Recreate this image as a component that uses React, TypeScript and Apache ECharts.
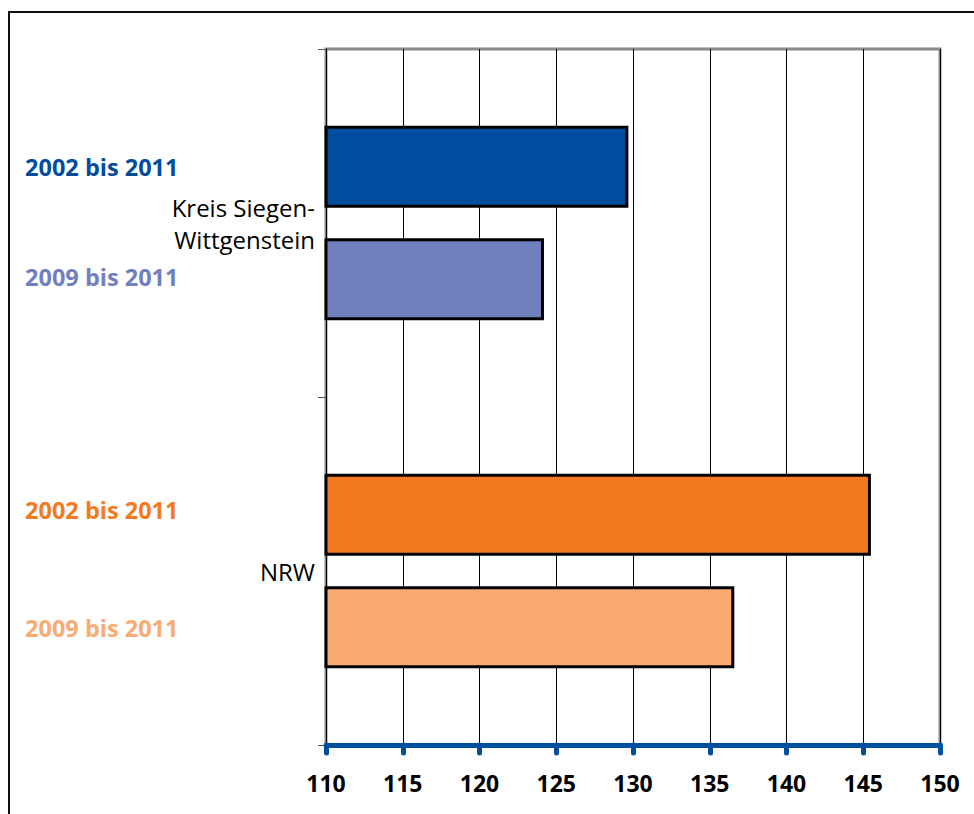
import React, { useEffect, useRef } from "react";
import * as echarts from "echarts";

const categories = ["Kreis Siegen-\nWittgenstein", "NRW"];
const seriesNames = ["2002 bis 2011", "2009 bis 2011"];
const values2002 = [129.7, 145.5];
const values2009 = [124.2, 136.6];
const colors2002 = ["#004C9F", "#F47A22"];
const colors2009 = ["#7080BF", "#F9AB73"];
const xTicks = { min: 110, max: 150, interval: 5 };

export default function App() {
  const ref = useRef<HTMLDivElement>(null);
  useEffect(() => {
    if (!ref.current) return;
    const chart = echarts.init(ref.current, null, { renderer: "svg" });
    const font = "'Open Sans', 'Noto Sans', sans-serif";
    const mk = (name: string, vals: number[], cols: string[], dy: number[]) => ({
      type: "bar",
      name,
      barWidth: 82,
      barGap: "37%",
      data: vals.map((v, i) => ({
        value: v,
        itemStyle: { color: cols[i] },
        label: { color: cols[i], offset: [0, dy[i]] },
      })),
      itemStyle: { borderColor: "#000", borderWidth: 3 },
      label: {
        show: true,
        position: "left",
        distance: 146,
        formatter: name,
        fontFamily: font,
        fontWeight: "bold",
        fontSize: 23.5,
      },
    });
    chart.setOption({
      animation: false,
      backgroundColor: "#fff",
      graphic: [
        {
          type: "rect",
          shape: { x: 9, y: 12, width: 1100, height: 1000 },
          style: { fill: "none", stroke: "#111", lineWidth: 2 },
          silent: true,
          z: -1,
        },
      ],
      grid: {
        left: 326,
        top: 49,
        right: 34,
        bottom: 69,
        show: true,
        borderColor: "#8a8a8a",
        borderWidth: 3,
        backgroundColor: "transparent",
      },
      xAxis: {
        type: "value",
        min: xTicks.min,
        max: xTicks.max,
        interval: xTicks.interval,
        axisLine: { show: true, lineStyle: { color: "#0050A0", width: 5 } },
        axisTick: {
          show: true,
          length: 8,
          lineStyle: { color: "#0050A0", width: 5, cap: "round" },
        },
        splitLine: { show: true, lineStyle: { color: "#000", width: 1 } },
        axisLabel: {
          color: "#000",
          fontFamily: font,
          fontWeight: "bold",
          fontSize: 23,
          margin: 26,
        },
      },
      yAxis: {
        type: "category",
        inverse: true,
        data: categories,
        axisLine: { show: true, lineStyle: { color: "#000", width: 1 } },
        axisTick: { show: true, length: 8, lineStyle: { color: "#555", width: 1 } },
        axisLabel: {
          color: "#000",
          fontFamily: font,
          fontSize: 24,
          lineHeight: 32,
          margin: 11,
          align: "right",
        },
      },
      series: [
        mk(seriesNames[0], values2002, colors2002, [0, -5]),
        mk(seriesNames[1], values2009, colors2009, [-2, 1]),
      ],
    });
    return () => chart.dispose();
  }, []);
  return (
    <div
      ref={ref}
      style={{ position: "fixed", left: 0, top: 0, width: 974, height: 814 }}
    />
  );
}
